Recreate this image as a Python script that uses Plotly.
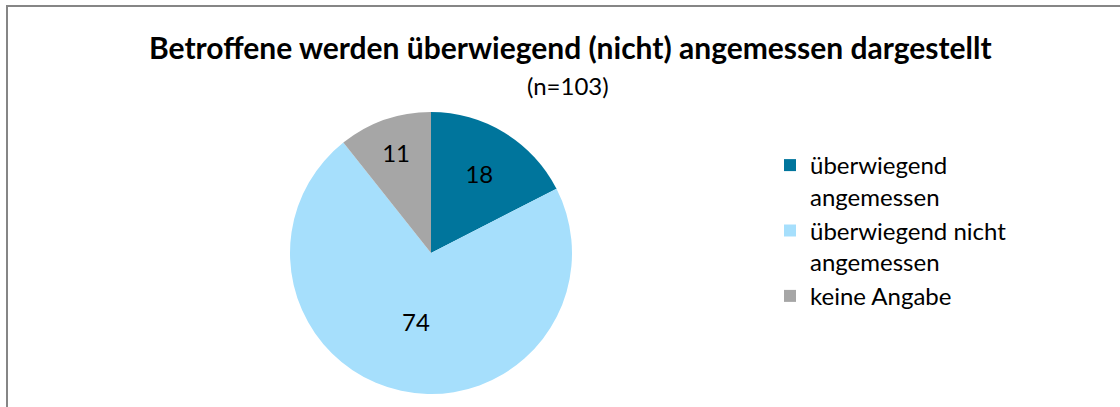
import plotly.graph_objects as go

categories = ["überwiegend<br>angemessen", "überwiegend nicht<br>angemessen", "keine Angabe"]
values = [18, 74, 11]
colors = ["#00759C", "#A6DFFC", "#A6A6A6"]
title_text = "Betroffene werden überwiegend (nicht) angemessen dargestellt"
subtitle_text = "(n=103)"

W, H = 1120, 407
cx, cy, r = 431, 253, 141
FONT = "Lato"

fig = go.Figure(go.Pie(
    labels=categories,
    values=values,
    marker=dict(colors=colors),
    sort=False,
    direction="clockwise",
    rotation=0,
    textinfo="value",
    textposition="inside",
    insidetextorientation="horizontal",
    textfont=dict(size=24, color="black", family=FONT),
    domain=dict(x=[(cx - r) / W, (cx + r) / W], y=[(H - cy - r) / H, (H - cy + r) / H]),
    hoverinfo="label+value",
))

fig.update_layout(
    width=W, height=H,
    margin=dict(l=0, r=0, t=0, b=0),
    paper_bgcolor="white",
    font=dict(family=FONT, color="black"),
    showlegend=True,
    legend=dict(x=770 / W, y=(H - 143) / H, xanchor="left", yanchor="top",
                font=dict(size=24, family=FONT, color="black"),
                valign="top",
                bgcolor="rgba(0,0,0,0)"),
    annotations=[
        dict(text="<b>" + title_text + "</b>", x=570 / W, y=(H - 47) / H, xref="paper", yref="paper",
             showarrow=False, xanchor="center", yanchor="middle", font=dict(size=30, family=FONT)),
        dict(text=subtitle_text, x=568 / W, y=(H - 85) / H, xref="paper", yref="paper",
             showarrow=False, xanchor="center", yanchor="middle", font=dict(size=24, family=FONT)),
    ],
    shapes=[
        dict(type="rect", xref="paper", yref="paper", x0=7 / W, x1=1.2, y0=-0.2, y1=(H - 6) / H,
             line=dict(color="#868686", width=2), fillcolor="rgba(0,0,0,0)", layer="above"),
    ],
)

fig.write_html("out.html", config={"displayModeBar": False},
               post_script="document.body.style.margin='0';document.body.style.overflow='hidden';")
